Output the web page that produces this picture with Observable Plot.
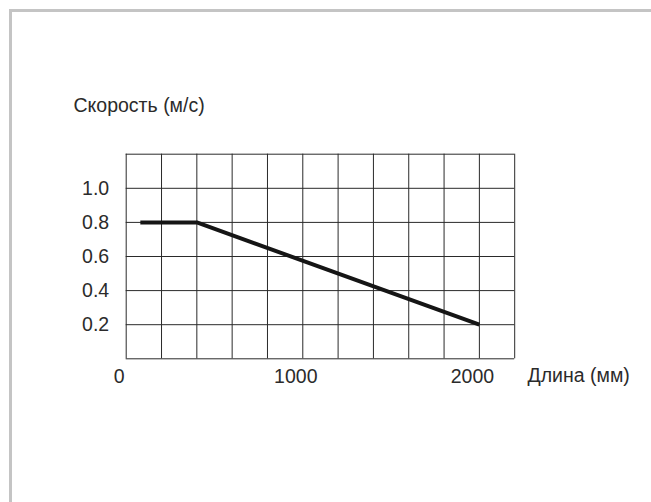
<!DOCTYPE html>
<html>
<head>
<meta charset="utf-8">
<script src="https://cdn.jsdelivr.net/npm/d3@7"></script>
<script src="https://cdn.jsdelivr.net/npm/@observablehq/plot@0.6"></script>
<style>
  html, body { margin: 0; padding: 0; background: #fff; }
  #wrap { position: relative; width: 651px; height: 502px; overflow: hidden; }
  #frame { position: absolute; left: 9px; top: 9px; right: 0; bottom: 0;
           border-top: 3px solid #c4c4c4; border-left: 3px solid #c4c4c4; pointer-events: none; }
  #chart { position: absolute; left: 0; top: 0; }
</style>
</head>
<body>
<div id="wrap"><div id="chart"></div><div id="frame"></div></div>
<script>
// Data
const lengthMm = [80, 400, 2000];
const speedMs = [0.8, 0.8, 0.2];
const xTicks = [0, 1000, 2000];
const yTicks = [0.2, 0.4, 0.6, 0.8, 1.0];
const gridX = [0, 200, 400, 600, 800, 1000, 1200, 1400, 1600, 1800, 2000, 2200];
const gridY = [0, 0.2, 0.4, 0.6, 0.8, 1.0, 1.2];
const yTitle = "Скорость (м/с)";
const xTitle = "Длина (мм)";

const data = lengthMm.map((x, i) => ({x, y: speedMs[i]}));

const plot = Plot.plot({
  width: 651,
  height: 502,
  marginLeft: 125.7,
  marginRight: 651 - 514.2,
  marginTop: 153.7,
  marginBottom: 502 - 358.3,
  style: {fontFamily: "'Liberation Sans', Arial, sans-serif", fontSize: "19.5px", color: "#2b2b2b", background: "transparent"},
  x: {domain: [0, 2200]},
  y: {domain: [0, 1.2]},
  marks: [
    Plot.ruleX(gridX, {stroke: "#2a2a2a", strokeWidth: 1}),
    Plot.ruleY(gridY, {stroke: "#2a2a2a", strokeWidth: 1}),
    Plot.line(data, {x: "x", y: "y", stroke: "#151515", strokeWidth: 4, strokeLinecap: "butt", strokeLinejoin: "miter"}),
    Plot.axisY(yTicks, {tickSize: 0, tickPadding: 17, tickFormat: d3.format(".1f"), label: null, fill: "#2b2b2b"}),
    Plot.axisX(xTicks, {tickSize: 0, tickPadding: 10.4, dx: -7, tickFormat: d => String(d), label: null, fill: "#2b2b2b"}),
    Plot.text([yTitle], {frameAnchor: "top-left", dx: -52.7, dy: -48.4, textAnchor: "start", lineAnchor: "middle", fill: "#2b2b2b"}),
    Plot.text([xTitle], {frameAnchor: "bottom-right", dx: 12.8, dy: 17.4, textAnchor: "start", lineAnchor: "middle", fill: "#2b2b2b"})
  ]
});

document.getElementById("chart").appendChild(plot);
</script>
</body>
</html>
